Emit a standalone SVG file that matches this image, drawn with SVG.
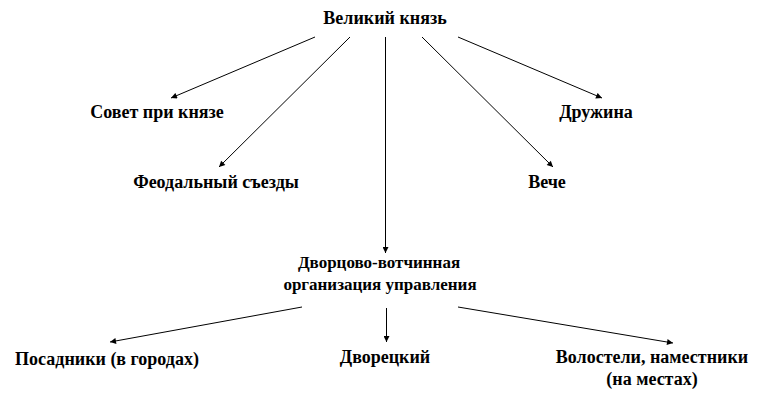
<svg xmlns="http://www.w3.org/2000/svg" width="772" height="404" viewBox="0 0 772 404">
<style>
text{font-family:"Liberation Serif","Times New Roman",serif;font-weight:bold;font-size:18px;fill:#000;text-anchor:middle}
.c line{stroke:#000;stroke-width:1;marker-end:url(#ah)}
</style>
<defs>
<marker id="ah" viewBox="0 0 10 10" refX="10" refY="5" markerWidth="8" markerHeight="6" markerUnits="userSpaceOnUse" orient="auto">
<path d="M0,0 L10,5 L0,10 z" fill="#000"/>
</marker>
</defs>
<rect width="772" height="404" fill="#fff"/>
<g class="c" id="connectors">
<line x1="315" y1="37" x2="171" y2="98"/>
<line x1="350" y1="37" x2="219" y2="167"/>
<line x1="385.5" y1="37" x2="385.5" y2="253"/>
<line x1="422" y1="37" x2="553" y2="167"/>
<line x1="458" y1="37" x2="602" y2="98"/>
<line x1="302" y1="307" x2="110" y2="342"/>
<line x1="386.5" y1="308" x2="386.5" y2="342"/>
<line x1="458" y1="307" x2="673" y2="343"/>
</g>
<g id="n-velikiy-knyaz"><text x="385" y="24">Великий князь</text></g>
<g id="n-sovet"><text x="157" y="118">Совет при князе</text></g>
<g id="n-feod"><text x="216" y="188">Феодальный съезды</text></g>
<g id="n-druzhina"><text x="596" y="118">Дружина</text></g>
<g id="n-veche"><text x="547" y="188">Вече</text></g>
<g id="n-dvorcovo"><text x="379" y="268" style="font-size:17px">Дворцово-вотчинная</text><text x="380" y="290" style="font-size:17px">организация управления</text></g>
<g id="n-posadniki"><text x="107" y="365">Посадники (в городах)</text></g>
<g id="n-dvoreckiy"><text x="385" y="363">Дворецкий</text></g>
<g id="n-volosteli"><text x="652" y="363">Волостели, наместники</text><text x="652" y="385">(на местах)</text></g>
</svg>
